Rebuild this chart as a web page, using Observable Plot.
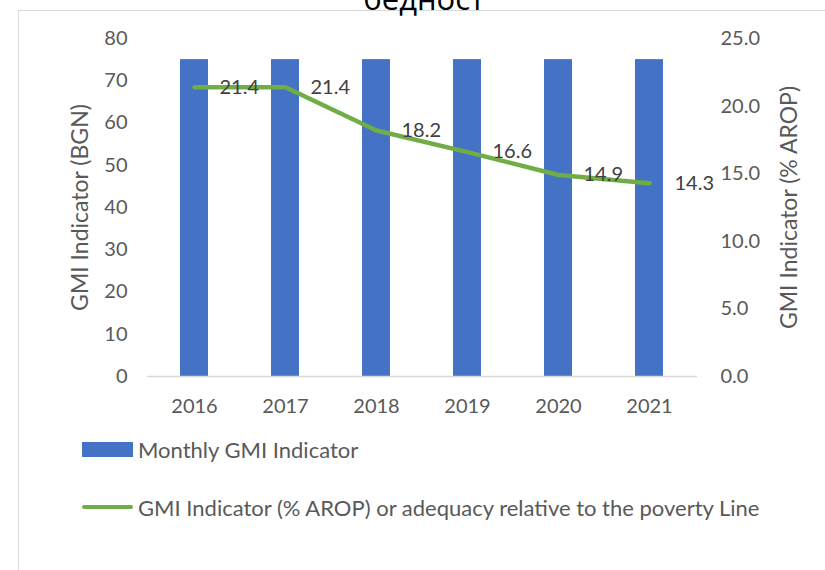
<!DOCTYPE html>
<html>
<head>
<meta charset="utf-8">
<script src="https://cdn.jsdelivr.net/npm/d3@7"></script>
<script src="https://cdn.jsdelivr.net/npm/@observablehq/plot@0.6"></script>
<style>
  html, body { margin: 0; padding: 0; background: #fff; }
  body { width: 825px; height: 570px; overflow: hidden; position: relative; font-family: Lato, "Open Sans", sans-serif; }
  #frame { position: absolute; left: 18px; top: 10px; width: 1000px; height: 800px; border-left: 1.5px solid #d9d9d9; border-top: 1.5px solid #d9d9d9; }
  #title { position: absolute; left: 0; width: 848px; top: -24px; text-align: center; font-family: "Open Sans", sans-serif; font-size: 31px; color: #000; line-height: 44px; }
  #chart { position: absolute; left: 0; top: 0; }
  .leg { position: absolute; left: 82px; font-size: 22px; color: #595959; display: flex; align-items: center; white-space: nowrap; height: 24px; }
  .sw-bar { width: 51px; height: 15px; background: #4472c4; margin-right: 5px; }
  .sw-line { width: 51px; height: 4px; background: #70ad47; border-radius: 2px; margin-right: 5px; }
</style>
</head>
<body>
<div id="frame"></div>
<div id="title">бедност</div>
<div id="chart"></div>
<div class="leg" style="top:437px"><div class="sw-bar"></div><span>Monthly GMI Indicator</span></div>
<div class="leg" style="top:495px"><div class="sw-line"></div><span>GMI Indicator (% AROP) or adequacy relative to the poverty Line</span></div>
<script>
const years = ["2016", "2017", "2018", "2019", "2020", "2021"];
const monthlyGMI = [75, 75, 75, 75, 75, 75];
const aropPct = [21.4, 21.4, 18.2, 16.6, 14.9, 14.3];
const leftTicks = [0, 10, 20, 30, 40, 50, 60, 70, 80];
const rightTicks = [0, 5, 10, 15, 20, 25];
const leftMax = 80, rightMax = 25;
const leftLabel = "GMI Indicator (BGN)";
const rightLabel = "GMI Indicator (% AROP)";

const rows = years.map((y, i) => ({year: y, gmi: monthlyGMI[i], pct: aropPct[i]}));
const toLeft = v => v * leftMax / rightMax;

const plot = Plot.plot({
  width: 825,
  height: 430,
  marginLeft: 147,
  marginRight: 128,
  marginTop: 38,
  marginBottom: 54,
  style: {fontFamily: "Lato, 'Open Sans', sans-serif", fontSize: "20px", color: "#595959", background: "transparent", overflow: "visible"},
  x: {domain: years, paddingInner: 0.69, paddingOuter: 0.345, label: null},
  y: {domain: [0, leftMax], label: null},
  marks: [
    Plot.barY(rows, {x: "year", y: "gmi", fill: "#4472c4"}),
    Plot.ruleY([0], {stroke: "#d9d9d9", strokeWidth: 1.5}),
    Plot.line(rows, {x: "year", y: d => toLeft(d.pct), stroke: "#70ad47", strokeWidth: 4.5, strokeLinecap: "round", strokeLinejoin: "round"}),
    Plot.text(rows, {x: "year", y: d => toLeft(d.pct), text: d => d.pct.toFixed(1), dx: 25, textAnchor: "start", fontSize: 20, fill: "#404040"}),
    Plot.axisX({tickSize: 0, tickPadding: 22, fontSize: 20, fill: "#595959", label: null}),
    Plot.axisY(leftTicks, {anchor: "left", tickSize: 0, tickPadding: 20, fontSize: 20, fill: "#595959", label: null}),
    Plot.axisY(rightTicks.map(toLeft), {anchor: "right", tickSize: 0, tickPadding: 23, fontSize: 20, fill: "#595959",
      tickFormat: v => (v * rightMax / leftMax).toFixed(1), label: null}),
    Plot.text([leftLabel], {text: d => d, frameAnchor: "left", dx: -67, rotate: -90, fontSize: 23, fill: "#595959", textAnchor: "middle"}),
    Plot.text([rightLabel], {text: d => d, frameAnchor: "right", dx: 92, rotate: -90, fontSize: 23, fill: "#595959", textAnchor: "middle"})
  ]
});
document.getElementById("chart").appendChild(plot);
</script>
</body>
</html>
